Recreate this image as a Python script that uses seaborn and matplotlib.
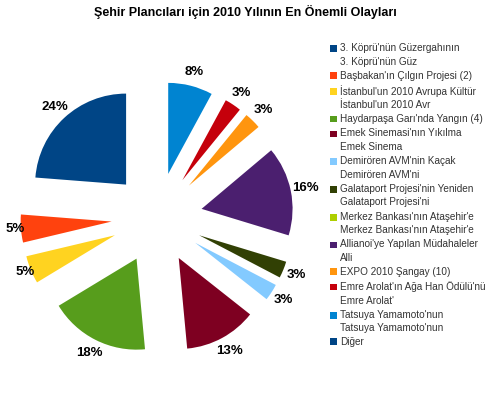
import numpy as np
import matplotlib
matplotlib.use("Agg")
import matplotlib.pyplot as plt
import matplotlib.patches as mpatches
from matplotlib.legend_handler import HandlerPatch
import seaborn as sns

# === DATA ===
events = [
    "3. Köprü'nün Güzergahının\n3. Köprü'nün Güz",
    "Başbakan'ın Çılgın Projesi (2)",
    "İstanbul'un 2010 Avrupa Kültür\nİstanbul'un 2010 Avr",
    "Haydarpaşa Garı'nda Yangın (4)",
    "Emek Sinemasi'nın Yıkılma\nEmek Sinema",
    "Demirören AVM'nin Kaçak\nDemirören AVM'ni",
    "Galataport Projesi'nin Yeniden\nGalataport Projesi'ni",
    "Merkez Bankası'nın Ataşehir'e\nMerkez Bankası'nın Ataşehir'e",
    "Allianoi'ye Yapılan Müdahaleler\nAlli",
    "EXPO 2010 Şangay (10)",
    "Emre Arolat'ın Ağa Han Ödülü'nü\nEmre Arolat'",
    "Tatsuya Yamamoto'nun\nTatsuya Yamamoto'nun",
    "Diğer",
]
percents = [0, 5, 5, 18, 13, 3, 3, 0, 16, 3, 3, 8, 24]
colors = ["#004586", "#ff420e", "#ffd320", "#579d1c", "#7e0021", "#83caff",
          "#314004", "#aecf00", "#4b1f6f", "#ff950e", "#c5000b", "#0084d1",
          "#004586"]

TITLE = "Şehir Plancıları için 2010 Yılının En Önemli Olayları"

# === STYLE ===
sns.set_style("white")
plt.rcParams['font.family'] = ['Liberation Sans', 'DejaVu Sans']
palette = sns.color_palette(colors)

W, H = 490, 394
fig = plt.figure(figsize=(W / 100, H / 100), dpi=100)

# pie centre ~ (157, 218) px, radius ~ 91 px
cx, cy, r, half = 157, 218, 91, 150
ax = fig.add_axes([(cx - half) / W, (H - cy - half) / H, 2 * half / W, 2 * half / H])
lim = half / r

total = sum(percents)
start = 90 + 360 * percents[-1] / total
EXPLODE = 0.5
LABEL_DIST = 1.16


def fmt(p):
    return f"{p:.0f}%" if p > 0.5 else ""


wedges, texts = ax.pie(
    percents,
    colors=palette,
    explode=[EXPLODE] * len(percents),
    startangle=start,
    counterclock=True,
    labels=[fmt(p * 100 / total) for p in percents],
    labeldistance=LABEL_DIST,
    wedgeprops=dict(linewidth=0),
    textprops=dict(fontsize=9.5, fontweight='bold', color='black'),
)
for w, t in zip(wedges, texts):
    t.set_horizontalalignment('center')
    t.set_verticalalignment('center')
    # keep labels near the left edge inside the figure
    th = np.deg2rad((w.theta1 + w.theta2) / 2)
    x, y = t.get_position()
    if x < -1.5:
        d = 1.06
        t.set_position((EXPLODE * np.cos(th) + d * np.cos(th),
                        EXPLODE * np.sin(th) + d * np.sin(th)))

ax.set_xlim(-lim, lim)
ax.set_ylim(-lim, lim)
ax.set_aspect('equal')
ax.axis('off')

fig.text(0.5, 1 - 12 / H, TITLE, ha='center', va='center',
         fontsize=9, fontweight='bold', color='black')


# legend squares sit next to the first line of two-line entries
def square_at(lift):
    def make(legend, orig_handle, xdescent, ydescent, width, height, fontsize):
        return mpatches.Rectangle((-xdescent, -ydescent + lift), width, height)
    return make


handler_map = {
    w: HandlerPatch(patch_func=square_at(4.8 if "\n" in lab else 0.0))
    for w, lab in zip(wedges, events)
}

leg = fig.legend(
    wedges, events,
    loc='upper left',
    bbox_to_anchor=(330 / W, 1 - 43 / H),
    frameon=False,
    fontsize=7.2,
    handlelength=0.65,
    handleheight=0.65,
    handletextpad=0.35,
    labelspacing=0.41,
    borderpad=0,
    borderaxespad=0,
    handler_map=handler_map,
)
for t in leg.get_texts():
    t.set_color('#333333')
    t.set_linespacing(1.45)

fig.savefig("out.png", dpi=100)
plt.close()
